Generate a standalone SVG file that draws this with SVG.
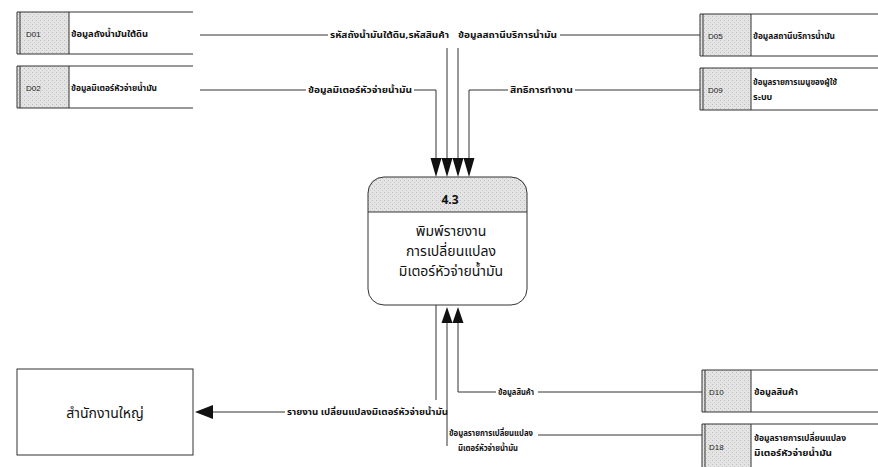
<svg xmlns="http://www.w3.org/2000/svg" width="878" height="467" viewBox="0 0 878 467">
<style>
.ln{fill:none;stroke:#333;stroke-width:1}
.box{fill:#fff;stroke:#333;stroke-width:1}
.id{font-family:"Liberation Sans",Arial,sans-serif;font-size:8px;fill:#222}
.t{font-family:"Noto Sans Thai","Noto Sans","DejaVu Sans",sans-serif;font-size:9px;fill:#111;font-weight:bold}
.lb{font-family:"Noto Sans Thai","Noto Sans","DejaVu Sans",sans-serif;font-size:8.5px;fill:#111;font-weight:bold}
.big{font-family:"Noto Sans Thai","Noto Sans","DejaVu Sans",sans-serif;font-size:14px;fill:#111}
</style>
<defs>
<pattern id="stip" width="4" height="4" patternUnits="userSpaceOnUse">
<rect width="4" height="4" fill="#e4e4e4"/>
<rect x="0" y="0" width="1" height="1" fill="#bcbcbc"/>
<rect x="2" y="2" width="1" height="1" fill="#c8c8c8"/>
</pattern>
</defs>
<rect width="878" height="467" fill="#fff"/>

<g id="D01">
<rect x="17" y="12" width="52" height="42" fill="url(#stip)"/>
<path class="ln" d="M193 12H17V54H193M20 12V54M69 12V54"/>
<text class="id" x="26" y="37">D01</text>
<text class="t" x="71" y="37" textLength="77" lengthAdjust="spacingAndGlyphs">ข้อมูลถังน้ำมันใต้ดิน</text>
</g>
<g id="D02">
<rect x="17" y="66" width="52" height="42" fill="url(#stip)"/>
<path class="ln" d="M193 66H17V108H193M20 66V108M69 66V108"/>
<text class="id" x="26" y="91">D02</text>
<text class="t" x="71" y="91" textLength="86" lengthAdjust="spacingAndGlyphs">ข้อมูลมิเตอร์หัวจ่ายน้ำมัน</text>
</g>
<g id="D05">
<rect x="700" y="14" width="51" height="42" fill="url(#stip)"/>
<path class="ln" d="M878 14H700V56H878M703 14V56M751 14V56"/>
<text class="id" x="708" y="39">D05</text>
<text class="t" x="753" y="39" textLength="82" lengthAdjust="spacingAndGlyphs">ข้อมูลสถานีบริการน้ำมัน</text>
</g>
<g id="D09">
<rect x="700" y="68" width="51" height="42" fill="url(#stip)"/>
<path class="ln" d="M878 68H700V110H878M703 68V110M751 68V110"/>
<text class="id" x="708" y="93">D09</text>
<text class="t" x="753" y="85" textLength="84" lengthAdjust="spacingAndGlyphs">ข้อมูลรายการเมนูของผู้ใช้</text>
<text class="t" x="753" y="100">ระบบ</text>
</g>
<g id="D10">
<rect x="702" y="370" width="49" height="42" fill="url(#stip)"/>
<path class="ln" d="M878 370H702V412H878M705 370V412M751 370V412"/>
<text class="id" x="709" y="395">D10</text>
<text class="t" x="754" y="395" textLength="44" lengthAdjust="spacingAndGlyphs">ข้อมูลสินค้า</text>
</g>
<g id="D18">
<rect x="702" y="424" width="49" height="43" fill="url(#stip)"/>
<path class="ln" d="M878 424H702V467M705 424V467M751 424V467"/>
<text class="id" x="709" y="450">D18</text>
<text class="t" x="754" y="441" textLength="92" lengthAdjust="spacingAndGlyphs">ข้อมูลรายการเปลี่ยนแปลง</text>
<text class="t" x="754" y="456" textLength="78" lengthAdjust="spacingAndGlyphs">มิเตอร์หัวจ่ายน้ำมัน</text>
</g>

<g id="P4.3">
<path d="M368 212V193Q368 177 384 177H511Q527 177 527 193V212Z" fill="url(#stip)"/>
<rect class="ln" x="368" y="177" width="159" height="128" rx="16"/>
<path class="ln" d="M368 212H527"/>
<text class="big" x="450" y="204" text-anchor="middle" style="font-size:12px;font-weight:bold">4.3</text>
<text class="big" x="451" y="236" text-anchor="middle">พิมพ์รายงาน</text>
<text class="big" x="451" y="256" text-anchor="middle">การเปลี่ยนแปลง</text>
<text class="big" x="451" y="276" text-anchor="middle">มิเตอร์หัวจ่ายน้ำมัน</text>
</g>

<g id="HQ">
<rect class="box" x="17" y="369" width="176" height="86"/>
<text class="big" x="105" y="418" text-anchor="middle">สำนักงานใหญ่</text>
</g>

<g id="connectors">
<path class="ln" d="M200 35H328M447 48V160"/>
<text class="lb" x="330" y="38" textLength="119" lengthAdjust="spacingAndGlyphs">รหัสถังน้ำมันใต้ดิน,รหัสสินค้า</text>
<path class="ln" d="M700 35H560M458 48V160"/>
<text class="lb" x="458" y="38" textLength="99" lengthAdjust="spacingAndGlyphs">ข้อมูลสถานีบริการน้ำมัน</text>
<path class="ln" d="M200 90H306M414 90H436V160"/>
<text class="lb" x="308" y="93" textLength="104" lengthAdjust="spacingAndGlyphs">ข้อมูลมิเตอร์หัวจ่ายน้ำมัน</text>
<path class="ln" d="M700 90H575M508 90H469V160"/>
<text class="lb" x="510" y="93" textLength="63" lengthAdjust="spacingAndGlyphs">สิทธิการทำงาน</text>
<path d="M430.5 158H441.5L436 177ZM441.5 158H452.5L447 177ZM452.5 158H463.5L458 177ZM463.5 158H474.5L469 177Z" fill="#111"/>

<path class="ln" d="M436 305V400M285 412H205"/>
<path d="M195 412L213 405V419Z" fill="#111"/>
<text class="lb" x="287" y="415" textLength="161" lengthAdjust="spacingAndGlyphs">รายงาน เปลี่ยนแปลงมิเตอร์หัวจ่ายน้ำมัน</text>

<path class="ln" d="M458 320V392H496M538 392H702"/>
<text class="lb" x="498" y="395" textLength="36" lengthAdjust="spacingAndGlyphs">ข้อมูลสินค้า</text>
<path class="ln" d="M447 320V446M538 435H702"/>
<text class="lb" x="449" y="436" textLength="84" lengthAdjust="spacingAndGlyphs">ข้อมูลรายการเปลี่ยนแปลง</text>
<text class="lb" x="458" y="451" textLength="60" lengthAdjust="spacingAndGlyphs">มิเตอร์หัวจ่ายน้ำมัน</text>
<path d="M441.5 323H452.5L447 307ZM452.5 323H463.5L458 307Z" fill="#111"/>
</g>
</svg>
